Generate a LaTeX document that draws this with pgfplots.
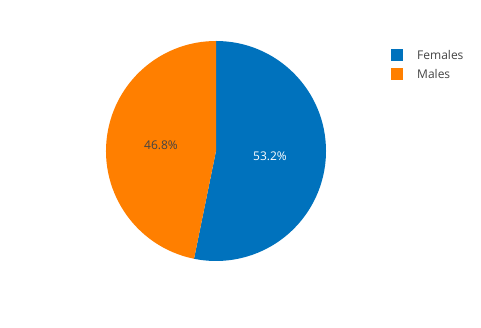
\documentclass[border=0pt]{standalone}
\usepackage{pgfplots}
\pgfplotsset{compat=1.18}
\usepackage{fontspec}
\setmainfont{Open Sans}
\definecolor{cfem}{RGB}{0,114,189}
\definecolor{cmal}{RGB}{255,127,0}
\definecolor{ctxt}{RGB}{68,68,68}
\begin{document}
\begin{tikzpicture}
% pie data: percentages
\def\vFem{53.2}
\def\vMal{46.8}
\pgfmathsetmacro{\aStart}{90}
\pgfmathsetmacro{\aMid}{90-\vFem*3.6}
\pgfmathsetmacro{\aEnd}{\aMid-\vMal*3.6}
\pgfmathsetmacro{\xA}{216+110*cos(\aStart)}
\pgfmathsetmacro{\yA}{177+110*sin(\aStart)}
\pgfmathsetmacro{\xB}{216+110*cos(\aMid)}
\pgfmathsetmacro{\yB}{177+110*sin(\aMid)}
\begin{axis}[
  width=481pt, height=328pt, scale only axis,
  xmin=0, xmax=481, ymin=0, ymax=328,
  hide axis, clip=false,
]
\path[fill=white] (axis cs:0,0) rectangle (axis cs:481,328);
% Females slice
\fill[cfem] (axis cs:216,177) -- (axis cs:\xA,\yA)
  arc[start angle=\aStart, end angle=\aMid, radius=110pt] -- cycle;
% Males slice
\fill[cmal] (axis cs:216,177) -- (axis cs:\xB,\yB)
  arc[start angle=\aMid, end angle=\aEnd, radius=110pt] -- cycle;
\node[font=\fontsize{12}{14}\selectfont, text=white] at (axis cs:270,172) {53.2\%};
\node[font=\fontsize{12}{14}\selectfont, text=ctxt] at (axis cs:161,183) {46.8\%};
% legend
\fill[cfem] (axis cs:391,279) rectangle (axis cs:403,267);
\fill[cmal] (axis cs:391,260) rectangle (axis cs:403,248);
\node[anchor=west, font=\fontsize{12}{14}\selectfont, text=ctxt, inner sep=0pt] at (axis cs:417,273) {Females};
\node[anchor=west, font=\fontsize{12}{14}\selectfont, text=ctxt, inner sep=0pt] at (axis cs:417,254) {Males};
\end{axis}
\end{tikzpicture}
\end{document}
